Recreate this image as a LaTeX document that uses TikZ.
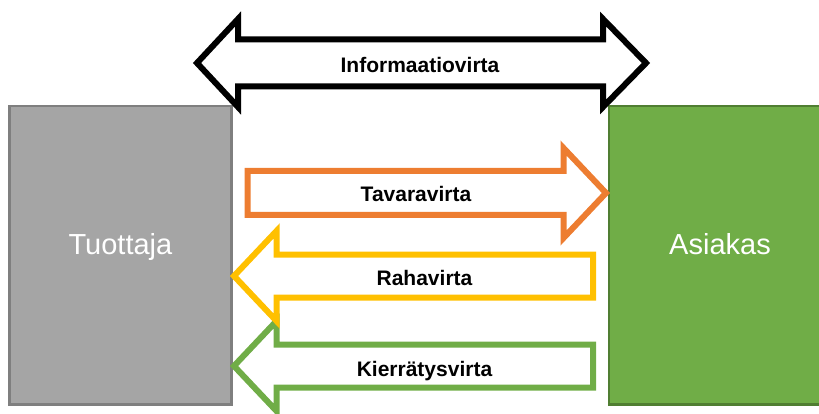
\documentclass[tikz,border=0pt]{standalone}
\usepackage{fontspec}
\setmainfont{Liberation Sans}
\definecolor{prodfill}{HTML}{A5A5A5}
\definecolor{prodline}{HTML}{7F7F7F}
\definecolor{custfill}{HTML}{70AD47}
\definecolor{custline}{HTML}{507E32}
\definecolor{goods}{HTML}{ED7D31}
\definecolor{money}{HTML}{FFC000}
\definecolor{recycle}{HTML}{70AD47}
\begin{document}
\begin{tikzpicture}[x=1pt,y=-1pt,
  party/.style={draw, line width=2.5pt, rectangle, inner sep=0pt, text=white,
    font=\fontsize{29}{29}\selectfont, text height=21pt, text depth=23.5pt,
    minimum width=221.8pt, minimum height=298.7pt},
  flow/.style={line width=6pt, fill=white, line join=miter, miter limit=10},
  flowlabel/.style={anchor=base, font=\fontsize{21}{21}\selectfont\bfseries}]
\useasboundingbox (0,0) rectangle (819,414);
\clip (0,0) rectangle (819,414);

% the two parties
\node[party, fill=prodfill, draw=prodline] (prod) at (120.4,255.35) {Tuottaja};
\node[party, fill=custfill, draw=custline] (cust) at (720,255.35) {Asiakas};

% recycling flow (customer -> producer)
\draw[flow, draw=recycle] (593,344.5) -- (276.5,344.5) -- (276.5,321) -- (234,366)
  -- (276.5,411) -- (276.5,387.5) -- (593,387.5) -- cycle;
% money flow (customer -> producer)
\draw[flow, draw=money] (593,254.5) -- (276.5,254.5) -- (276.5,231) -- (234,276)
  -- (276.5,321) -- (276.5,297.5) -- (593,297.5) -- cycle;
% goods flow (producer -> customer)
\draw[flow, draw=goods] (247.5,171) -- (563.5,171) -- (563.5,148) -- (606,193)
  -- (563.5,238) -- (563.5,215) -- (247.5,215) -- cycle;
% information flow (both ways)
\draw[flow, draw=black] (197,63) -- (238,19) -- (238,39.5) -- (603,39.5) -- (603,19)
  -- (646,63) -- (603,107) -- (603,86.5) -- (238,86.5) -- (238,107) -- cycle;

% flow labels
\node[flowlabel] (infol) at (420,72.7) {Informaatiovirta};
\node[flowlabel] (goodsl) at (416,201.7) {Tavaravirta};
\node[flowlabel] (moneyl) at (424.5,285) {Rahavirta};
\node[flowlabel] (recyl) at (424.5,376.7) {Kierrätysvirta};
\end{tikzpicture}
\end{document}
